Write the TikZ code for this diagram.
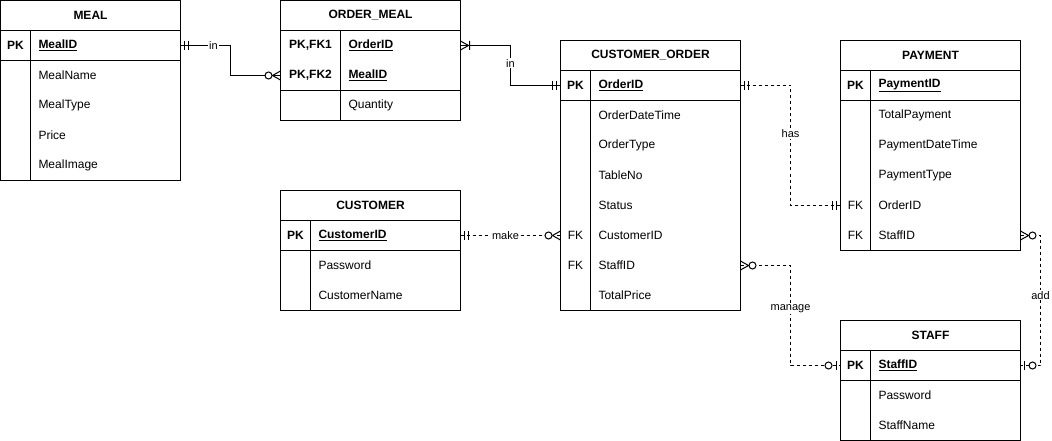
\documentclass[tikz,border=0pt]{standalone}
\usepackage{fontspec}
\setmainfont{Liberation Sans}
\usepackage{tikz}
\usetikzlibrary{positioning}

\begin{document}
\begin{tikzpicture}[x=1pt,y=-1pt,line width=1pt,
    font=\fontsize{12}{14}\selectfont,
    every node/.style={outer sep=0pt},
    hdr/.style={draw,minimum width=180pt,minimum height=30pt,inner sep=0pt,font=\fontsize{12}{14}\selectfont\bfseries},
    keycell/.style={minimum width=30pt,minimum height=30pt,inner sep=0pt},
    widekey/.style={keycell,minimum width=60pt},
    fieldcell/.style={minimum height=30pt,text width=134pt,inner xsep=8pt,inner ysep=0pt,align=left},
    narrowfield/.style={fieldcell,text width=104pt},
    lbl/.style={fill=white,inner sep=1pt,font=\fontsize{11}{13}\selectfont},
    rel/.style={line width=1pt},
    optrel/.style={rel,dash pattern=on 3pt off 3pt},
    mandone/.pic={\draw[solid] (4,-4.5) -- (4,4.5) (8,-4.5) -- (8,4.5);},
    onemany/.pic={\draw[solid] (0,-4.5) -- (8,0) -- (0,4.5) (9,-4.5) -- (9,4.5);},
    zeromany/.pic={\draw[solid] (0,-4.5) -- (8,0) -- (0,4.5);
                   \draw[solid,fill=white] (12,0) circle[radius=3.5pt];},
    zeroone/.pic={\draw[solid] (4,-4.5) -- (4,4.5);
                  \draw[solid,fill=white] (12,0) circle[radius=3.5pt];}]
  \useasboundingbox (-0.5,-0.5) rectangle (1051.5,440.5);

  % MEAL
  \node[hdr] (meal) at (90,15) {MEAL};
  \node[keycell] (meal-k1) at (15,45) {\bfseries PK};
  \node[fieldcell] (meal-id) at (105,45) {\bfseries\underline{MealID}};
  \node[fieldcell] (meal-name) at (105,75) {MealName};
  \node[fieldcell] (meal-type) at (105,105) {MealType};
  \node[fieldcell] (meal-price) at (105,135) {Price};
  \node[fieldcell] (meal-img) at (105,165) {MealImage};
  \draw (meal.south west) rectangle (meal-img.south east);
  \draw (meal-k1.south west) -- (meal-id.south east);
  \draw (meal-k1.north east) -- (meal-k1.north east |- meal-img.south);

  % ORDER_MEAL
  \node[hdr] (om) at (370,15) {ORDER\_MEAL};
  \node[widekey] (om-k1) at (310,45) {\bfseries PK,FK1};
  \node[narrowfield] (om-oid) at (400,45) {\bfseries\underline{OrderID}};
  \node[widekey] (om-k2) at (310,75) {\bfseries PK,FK2};
  \node[narrowfield] (om-mid) at (400,75) {\bfseries\underline{MealID}};
  \node[narrowfield] (om-qty) at (400,105) {Quantity};
  \draw (om.south west) rectangle (om-qty.south east);
  \draw (om-k2.south west) -- (om-mid.south east);
  \draw (om-k1.north east) -- (om-k1.north east |- om-qty.south);

  % CUSTOMER
  \node[hdr] (cu) at (370,205) {CUSTOMER};
  \node[keycell] (cu-k1) at (295,235) {\bfseries PK};
  \node[fieldcell] (cu-id) at (385,235) {\bfseries\underline{CustomerID}};
  \node[fieldcell] (cu-pw) at (385,265) {Password};
  \node[fieldcell] (cu-name) at (385,295) {CustomerName};
  \draw (cu.south west) rectangle (cu-name.south east);
  \draw (cu-k1.south west) -- (cu-id.south east);
  \draw (cu-k1.north east) -- (cu-k1.north east |- cu-name.south);

  % CUSTOMER_ORDER
  \node[hdr] (co) at (650,55) {CUSTOMER\_ORDER};
  \node[keycell] (co-k1) at (575,85) {\bfseries PK};
  \node[fieldcell] (co-oid) at (665,85) {\bfseries\underline{OrderID}};
  \node[fieldcell] (co-time) at (665,115) {OrderDateTime};
  \node[fieldcell] (co-type) at (665,145) {OrderType};
  \node[fieldcell] (co-table) at (665,175) {TableNo};
  \node[fieldcell] (co-status) at (665,205) {Status};
  \node[keycell] (co-k6) at (575,235) {FK};
  \node[fieldcell] (co-cust) at (665,235) {CustomerID};
  \node[keycell] (co-k7) at (575,265) {FK};
  \node[fieldcell] (co-staff) at (665,265) {StaffID};
  \node[fieldcell] (co-total) at (665,295) {TotalPrice};
  \draw (co.south west) rectangle (co-total.south east);
  \draw (co-k1.south west) -- (co-oid.south east);
  \draw (co-k1.north east) -- (co-k1.north east |- co-total.south);

  % PAYMENT
  \node[hdr] (pay) at (930,55) {PAYMENT};
  \node[keycell] (pay-k1) at (855,85) {\bfseries PK};
  \node[fieldcell] (pay-id) at (945,85) {\bfseries\underline{PaymentID}};
  \node[fieldcell] (pay-total) at (945,115) {TotalPayment};
  \node[fieldcell] (pay-time) at (945,145) {PaymentDateTime};
  \node[fieldcell] (pay-type) at (945,175) {PaymentType};
  \node[keycell] (pay-k4) at (855,205) {FK};
  \node[fieldcell] (pay-order) at (945,205) {OrderID};
  \node[keycell] (pay-k5) at (855,235) {FK};
  \node[fieldcell] (pay-staff) at (945,235) {StaffID};
  \draw (pay.south west) rectangle (pay-staff.south east);
  \draw (pay-k1.south west) -- (pay-id.south east);
  \draw (pay-k1.north east) -- (pay-k1.north east |- pay-staff.south);

  % STAFF
  \node[hdr] (st) at (930,335) {STAFF};
  \node[keycell] (st-k1) at (855,365) {\bfseries PK};
  \node[fieldcell] (st-id) at (945,365) {\bfseries\underline{StaffID}};
  \node[fieldcell] (st-pw) at (945,395) {Password};
  \node[fieldcell] (st-name) at (945,425) {StaffName};
  \draw (st.south west) rectangle (st-name.south east);
  \draw (st-k1.south west) -- (st-id.south east);
  \draw (st-k1.north east) -- (st-k1.north east |- st-name.south);

  % relationships
  \draw[rel] (meal-id.east) -- node[lbl,pos=0.66] (l-in1) {in} ++(50,0) |- (om-k2.west);
  \pic at (meal-id.east) {mandone};
  \pic[xscale=-1] at (om-k2.west) {zeromany};

  \draw[rel] (om-oid.east) -- ++(50,0) |- node[lbl,pos=0.22] (l-in2) {in} (co-k1.west);
  \pic at (om-oid.east) {onemany};
  \pic[xscale=-1] at (co-k1.west) {mandone};

  \draw[optrel] (co-oid.east) -- ++(50,0) |- node[lbl,pos=0.2] (l-has) {has} (pay-k4.west);
  \pic at (co-oid.east) {mandone};
  \pic[xscale=-1] at (pay-k4.west) {mandone};

  \draw[optrel] (cu-id.east) -- node[lbl,pos=0.45] (l-make) {make} (co-k6.west);
  \pic at (cu-id.east) {mandone};
  \pic[xscale=-1] at (co-k6.west) {zeromany};

  \draw[optrel] (co-staff.east) -- ++(50,0) |- node[lbl,pos=0.215] (l-manage) {manage} (st-k1.west);
  \pic at (co-staff.east) {zeromany};
  \pic[xscale=-1] at (st-k1.west) {zeroone};

  \draw[optrel] (pay-staff.east) -- ++(20,0) |- node[lbl,pos=0.23] (l-add) {add} (st-id.east);
  \pic at (pay-staff.east) {zeromany};
  \pic at (st-id.east) {zeroone};
\end{tikzpicture}
\end{document}
